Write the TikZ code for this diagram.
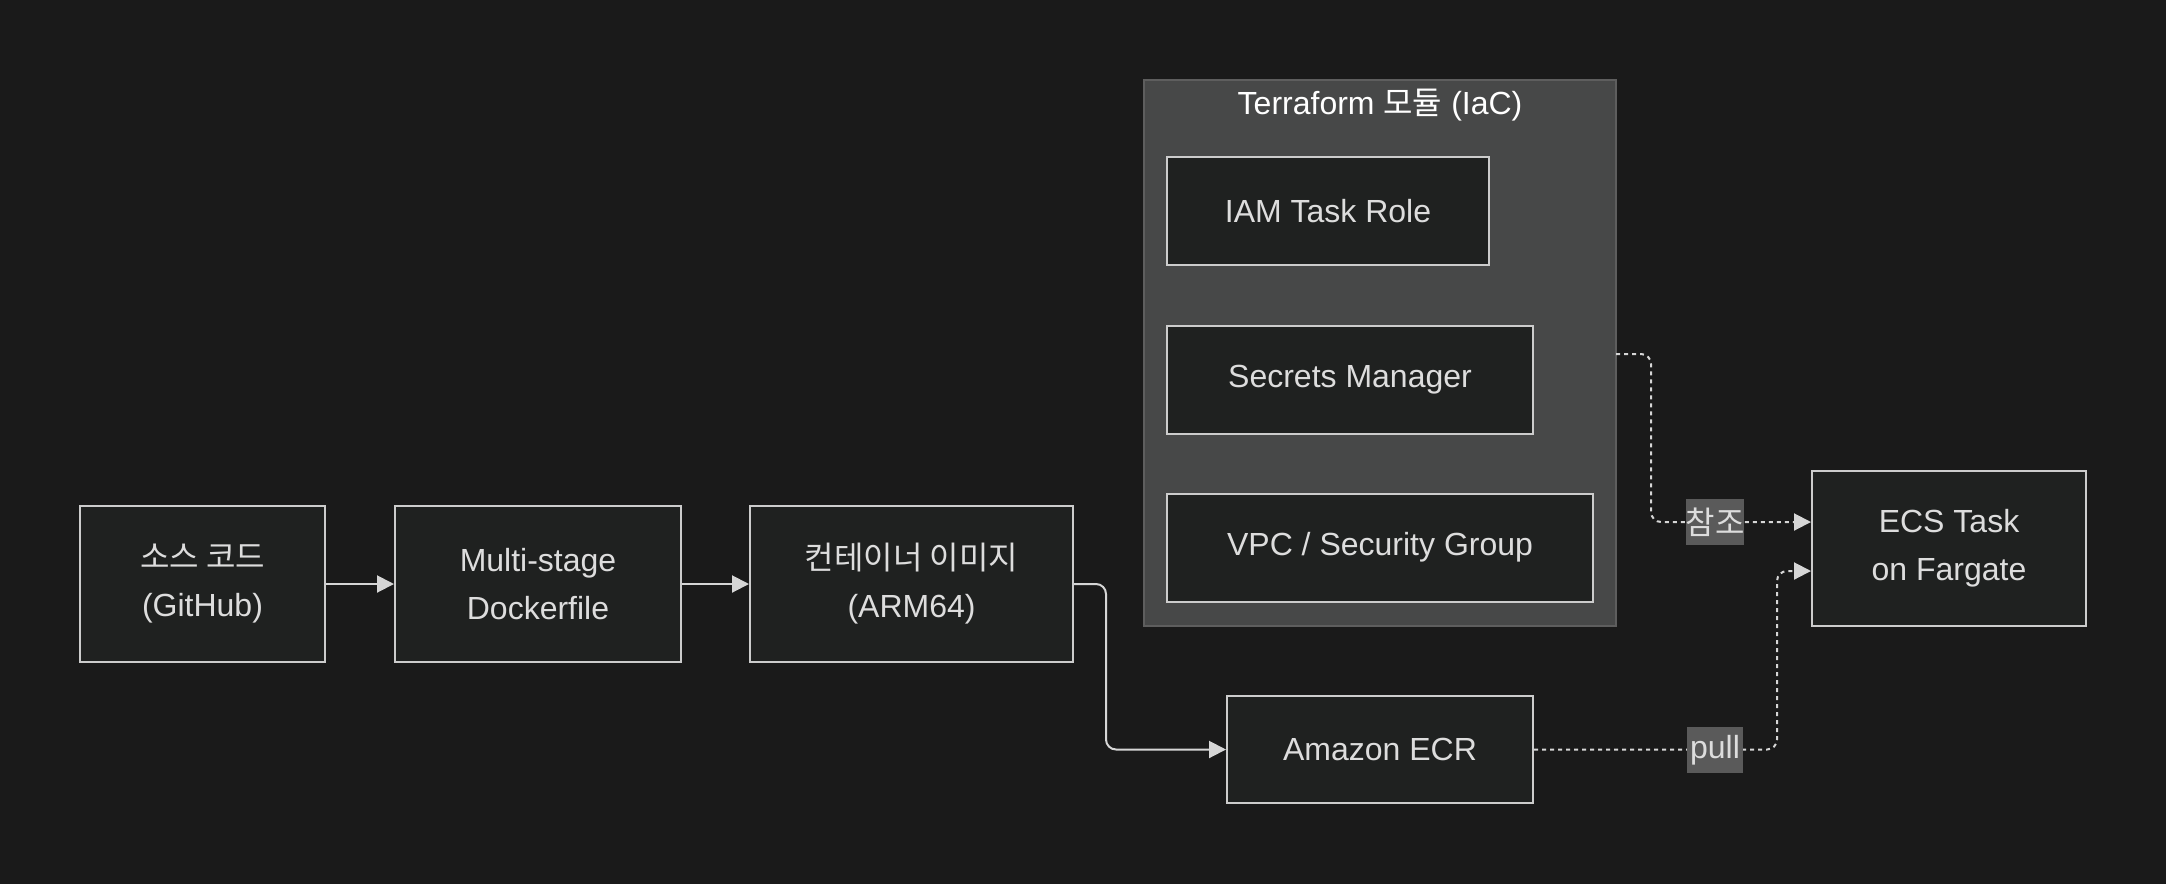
\documentclass[tikz,border=0pt]{standalone}
\usepackage{fontspec}
\setmainfont{Liberation Sans}
\newfontfamily\cjk{Noto Sans CJK KR}
\usetikzlibrary{arrows.meta}
\definecolor{bgc}{HTML}{1A1A1A}
\definecolor{boxfill}{HTML}{1F2120}
\definecolor{boxline}{HTML}{CCCCCC}
\definecolor{clfill}{HTML}{474848}
\definecolor{clline}{HTML}{5E5E5E}
\definecolor{lblfill}{HTML}{5A5A5A}
\definecolor{txt}{HTML}{DDDDDD}
\definecolor{edgec}{HTML}{D6D6D6}
\tikzset{
  procbox/.style={draw=boxline, fill=boxfill, line width=1pt, text=txt,
    font=\fontsize{16}{24}\selectfont, align=center, inner sep=0pt,
    minimum height=54pt},
  clusterbox/.style={draw=clline, fill=clfill, line width=1pt, inner sep=0pt},
  solidarrow/.style={draw=edgec, line width=1pt, -{Triangle[length=8.5pt,width=8.5pt]}},
  dotarrow/.style={draw=edgec, line width=1pt, dash pattern=on 2pt off 2pt,
    rounded corners=5pt, -{Triangle[length=8.5pt,width=8.5pt]}},
  lbl/.style={fill=lblfill, text=txt, font=\fontsize{16}{20}\selectfont,
    inner sep=0pt, minimum width=28pt, minimum height=23pt},
}
\begin{document}
\begin{tikzpicture}[x=0.5pt,y=-0.5pt]
\fill[bgc] (0,0) rectangle (2166,884);
\useasboundingbox (0,0) rectangle (2166,884);

% cluster
\node[clusterbox, minimum width=236pt, minimum height=273pt] (cl) at (1380,353) {};
\node[text=white, font=\fontsize{16}{20}\selectfont, inner sep=0pt] (cltitle) at (1380,105) {Terraform {\cjk 모듈} (IaC)};

\node[procbox, minimum width=161pt] (iam) at (1328,211) {IAM Task Role};
\node[procbox, minimum width=183pt] (sec) at (1350,380) {Secrets Manager};
\node[procbox, minimum width=213pt] (vpc) at (1380,547.5) {VPC / Security Group};

% pipeline
\node[procbox, minimum width=122.5pt, minimum height=78pt] (src) at (202.5,584) {{\cjk 소스 코드}\\(GitHub)};
\node[procbox, minimum width=143pt, minimum height=78pt] (multi) at (538,584) {Multi-stage\\Dockerfile};
\node[procbox, minimum width=161.5pt, minimum height=78pt] (cont) at (911.5,584) {{\cjk 컨테이너 이미지}\\(ARM64)};
\node[procbox, minimum width=153pt, minimum height=53.5pt] (ecr) at (1380,749.5) {Amazon ECR};
\node[procbox, minimum width=137pt, minimum height=77.5pt] (ecs) at (1949,548.5) {ECS Task\\on Fargate};

% edges
\draw[solidarrow] (src) -- (multi);
\draw[solidarrow] (multi) -- (cont);
\draw[solidarrow, rounded corners=5pt] (cont.east) -- ++(32,0) |- (ecr.west);

\coordinate (tfout) at (1616,354);
\draw[dotarrow] (tfout) -- (1651,354) |- ([yshift=13.25pt]ecs.west);
\draw[dotarrow] (ecr.east) -- (1777,749.5) |- ([yshift=-11.25pt]ecs.west);

\node[lbl] (lref) at (1715,522) {\cjk 참조};
\node[lbl] (lpull) at (1715,750) {pull};
\end{tikzpicture}
\end{document}
